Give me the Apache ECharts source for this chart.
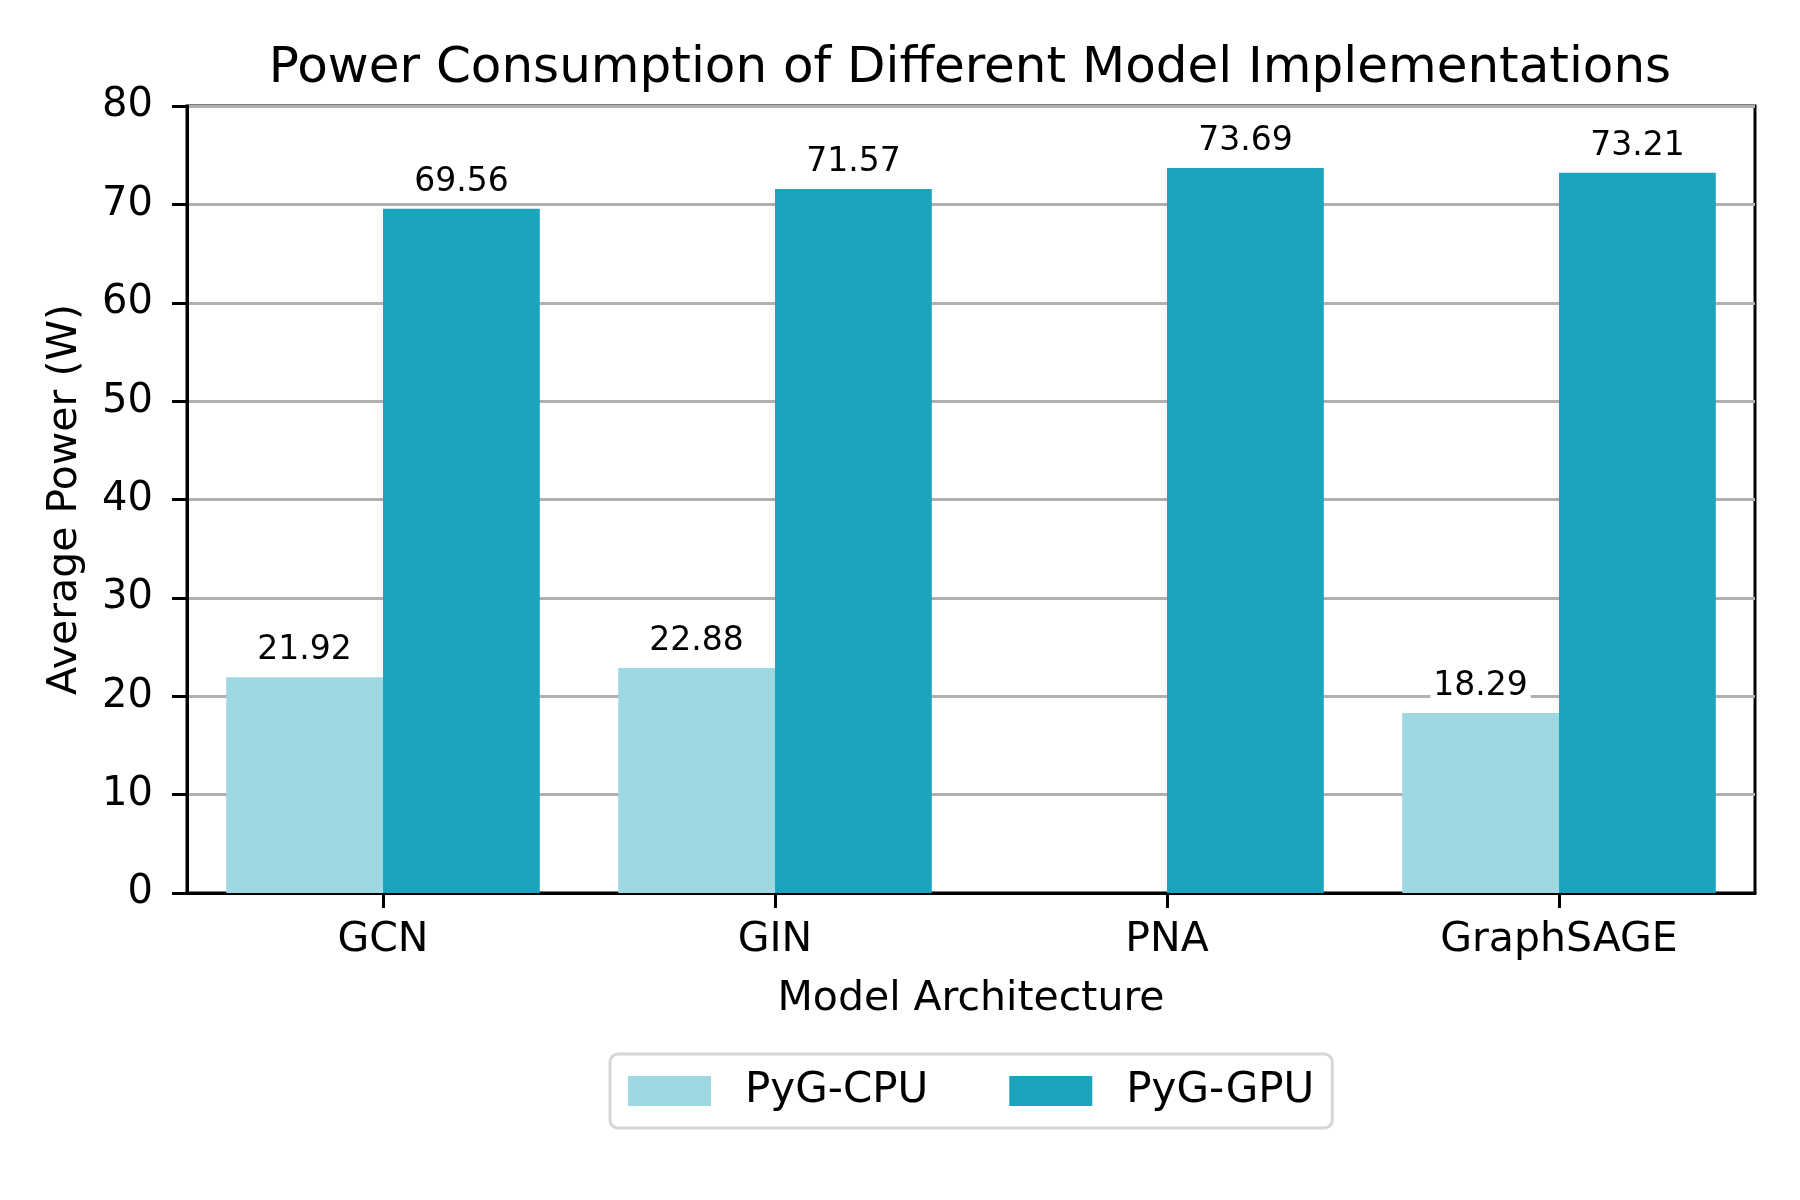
<!DOCTYPE html>
<html>
<head>
<meta charset="utf-8">
<script src="https://cdn.jsdelivr.net/npm/echarts@6/dist/echarts.min.js"></script>
<style>html,body{margin:0;padding:0;background:#fff;}#main{width:1800px;height:1200px;}</style>
</head>
<body>
<div id="main"></div>
<script>
const categories = ['GCN', 'GIN', 'PNA', 'GraphSAGE'];
const cpuValues = [21.92, 22.88, null, 18.29];
const gpuValues = [69.56, 71.57, 73.69, 73.21];
const seriesNames = ['PyG-CPU', 'PyG-GPU'];
const yTicks = {min: 0, max: 80, interval: 10};

const FONT = 'DejaVu Sans';
const chart = echarts.init(document.getElementById('main'), null, {renderer: 'canvas'});

const labelCfg = {
  show: true,
  position: 'top',
  distance: 10,
  fontFamily: FONT,
  fontSize: 33,
  lineHeight: 33,
  color: '#000',
  backgroundColor: '#fff',
  padding: [0, 3],
  formatter: p => p.value == null ? '' : p.value.toFixed(2)
};

chart.setOption({
  animation: false,
  backgroundColor: '#fff',
  title: {
    text: 'Power Consumption of Different Model Implementations',
    left: 965,
    textAlign: 'center',
    top: 39,
    textStyle: {fontFamily: FONT, fontSize: 50, fontWeight: 'normal', color: '#000', lineHeight: 50}
  },
  legend: {
    data: seriesNames,
    left: 610,
    top: 1054,
    orient: 'horizontal',
    itemWidth: 83,
    itemHeight: 30,
    itemGap: 81,
    padding: [16, 18],
    borderColor: '#d6d6d6',
    borderWidth: 3,
    borderRadius: 8,
    backgroundColor: '#fff',
    icon: 'rect',
    textStyle: {fontFamily: FONT, fontSize: 42, lineHeight: 42, color: '#000', padding: [0, 0, 0, 29]}
  },
  grid: {
    left: 187, right: 45, top: 106, bottom: 307,
    show: true, borderColor: '#000', borderWidth: 3, backgroundColor: 'transparent'
  },
  xAxis: {
    type: 'category',
    data: categories,
    name: 'Model Architecture',
    nameLocation: 'middle',
    nameGap: 86,
    nameTextStyle: {fontFamily: FONT, fontSize: 41, color: '#000', lineHeight: 41},
    axisLine: {show: true, lineStyle: {color: '#000', width: 3}},
    axisTick: {show: true, alignWithLabel: true, length: 15, lineStyle: {color: '#000', width: 3}},
    axisLabel: {fontFamily: FONT, fontSize: 41, color: '#000', margin: 27, lineHeight: 41},
    splitLine: {show: false}
  },
  yAxis: {
    type: 'value',
    min: yTicks.min, max: yTicks.max, interval: yTicks.interval,
    name: 'Average Power (W)',
    nameLocation: 'middle',
    nameGap: 101,
    nameRotate: 90,
    nameTextStyle: {fontFamily: FONT, fontSize: 41, color: '#000', lineHeight: 41},
    axisLine: {show: true, lineStyle: {color: '#000', width: 3}},
    axisTick: {show: true, length: 15, lineStyle: {color: '#000', width: 3}},
    axisLabel: {fontFamily: FONT, fontSize: 40, color: '#000', margin: 34},
    splitLine: {show: true, lineStyle: {color: '#b0b0b0', width: 3}}
  },
  series: [
    {
      name: seriesNames[0], type: 'bar', data: cpuValues,
      barGap: '0%', barCategoryGap: '20%',
      itemStyle: {color: '#9dd8e3'},
      label: labelCfg
    },
    {
      name: seriesNames[1], type: 'bar', data: gpuValues,
      barGap: '0%', barCategoryGap: '20%',
      itemStyle: {color: '#1ca3bd'},
      label: labelCfg
    }
  ]
});
</script>
</body>
</html>
